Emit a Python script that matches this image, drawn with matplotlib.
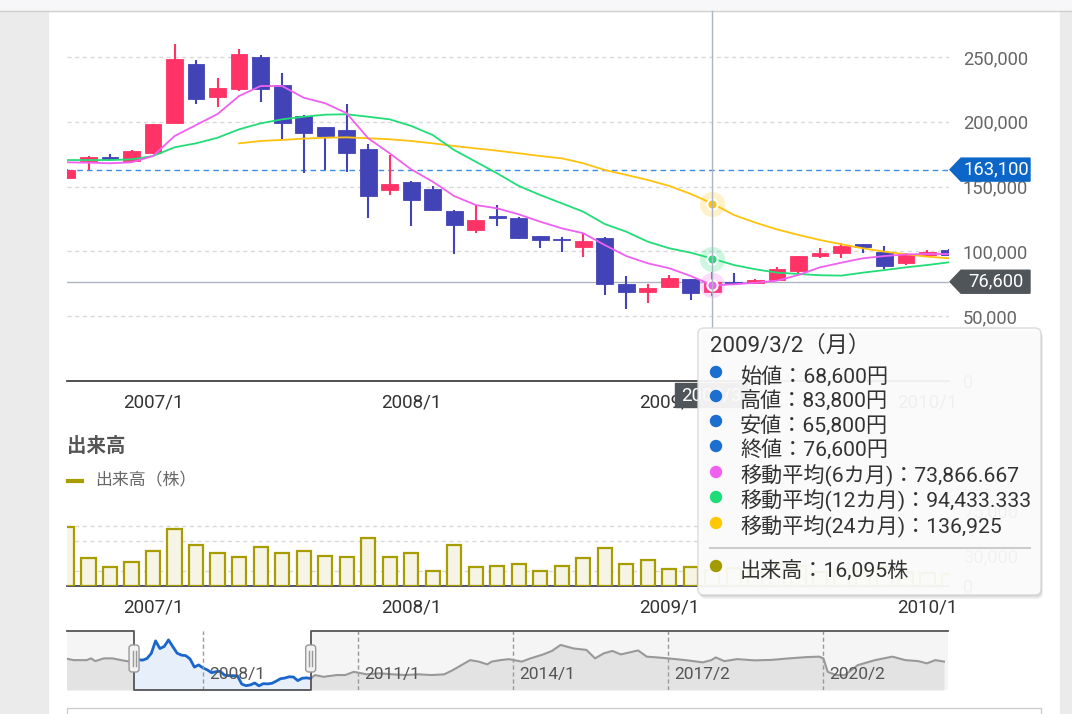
import numpy as np
import pandas as pd
import matplotlib
matplotlib.use('Agg')
import matplotlib.pyplot as plt
from matplotlib.patches import Rectangle, FancyBboxPatch, Polygon, Circle
from matplotlib.transforms import IdentityTransform, offset_copy
from matplotlib.lines import Line2D

plt.rcParams['font.family'] = ['Roboto', 'Noto Sans CJK JP']

# monthly candles 2006/9 - 2010/2
months = pd.period_range('2006-09', '2010-02', freq='M')

opens = [156900, 169700, 173000, 169500,
         176200, 199300, 244400, 219400, 225100, 250200, 228400, 204500, 195700, 193700, 179000, 147400,
         153800, 147900, 131400, 116400, 126500, 126000, 111600, 109000, 103600, 110200, 74800, 68900,
         72300, 78500, 68600, 76000, 75500, 78000, 85100, 96500, 98500, 105400, 99800, 91300,
         97000, 101000]
highs = [163500, 173500, 175200, 178000,
         198500, 260000, 247700, 233600, 256000, 251500, 237900, 205200, 196000, 213700, 182900, 174400,
         154000, 150700, 131900, 135800, 135800, 126500, 111800, 110900, 114000, 111000, 81000, 74800,
         81800, 79000, 83800, 83000, 78500, 88000, 96500, 102400, 106200, 106000, 104200, 98500,
         101100, 101500]
lows = [156000, 162800, 170500, 169000,
        175500, 199000, 213800, 211700, 223800, 215500, 186500, 160200, 162800, 161500, 125500, 143500,
        119600, 131500, 97800, 114400, 119600, 109600, 102900, 99800, 95900, 66400, 55300, 60000,
        72000, 62500, 65800, 74000, 75200, 77500, 83600, 94700, 94700, 98500, 86200, 89500,
        96800, 96800]
closes = [162800, 173000, 171000, 177500,
          198000, 248500, 217400, 225800, 252300, 225100, 198800, 191100, 189000, 175700, 143000, 151800,
          139700, 131900, 120400, 124600, 126000, 110600, 108800, 108500, 107800, 74800, 68400, 71500,
          79200, 67700, 76600, 75500, 78000, 86700, 96400, 99000, 104200, 103100, 88700, 98000,
          99800, 97500]
volumes = [59000, 27300, 18300, 24000,
           35000, 57000, 40700, 33000, 29000, 39000, 33000, 35000, 30000, 29000, 48000, 29000,
           33000, 14700, 40700, 18300, 19700, 21300, 15000, 19700, 27300, 38000, 21300, 25700,
           17000, 18300, 16095, 18000, 15000, 22000, 20000, 14000, 17000, 15000, 19000, 14000,
           13000, 12000]

ma6 = [168750, 168450, 168000, 168750,
       173600, 189000, 197500, 206000, 219900, 227600, 227600, 218600, 214300, 206600, 187300, 175700,
       163300, 153800, 142700, 135800, 133200, 128600, 122900, 117800, 114000, 104900, 96400, 90800,
       87000, 81000, 73866.667, 74600, 75800, 77400, 81800, 87700, 91300, 94700, 96400, 97700,
       98000, 98000]
ma12 = [170500, 170500, 170500, 171000,
        173600, 180300, 183400, 187700, 194200, 198800, 201900, 203900, 205500, 205800, 203900, 201900,
        196800, 189800, 178200, 169200, 160200, 150500, 143500, 137100, 130600, 121100, 115200, 107500,
        102400, 99000, 94433.333, 89500, 86200, 83600, 82600, 81600, 81300, 83600, 85600, 87700,
        89500, 91600]
ma24 = [np.nan] * 8 + [183400, 185200, 186000, 187000, 187700, 188000, 187300, 186500,
                       185200, 183400, 181300, 179500, 177700, 175700, 173600, 171800, 168000, 162800, 159000, 155100,
                       150500, 144300, 136925, 128100, 122200, 117000, 112700, 108800, 105500, 102400, 99800, 97800,
                       95900, 94700]

latest_price = 163100
hover = 30  # 2009/3

# navigator (whole history) outside the selected range
nav_left_dates = ['2005-05', '2005-07', '2005-10', '2005-11', '2005-12', '2006-02', '2006-04', '2006-06', '2006-08']
nav_left_vals = [178000, 171000, 171000, 178000, 167000, 178000, 178000, 171000, 165000]
nav_right_dates = ['2010-03', '2010-05', '2010-08', '2010-10', '2010-12', '2011-03', '2011-06', '2011-09', '2011-12',
                   '2012-03', '2012-06', '2012-09', '2012-11', '2013-03', '2013-05', '2013-07', '2013-08', '2013-10',
                   '2013-12', '2014-03', '2014-05', '2014-08', '2014-10', '2014-12', '2015-03', '2015-06', '2015-08',
                   '2015-10', '2015-12', '2016-02', '2016-04', '2016-06', '2016-08', '2016-11', '2017-01', '2017-05',
                   '2017-09', '2017-11', '2017-12', '2018-02', '2018-05', '2018-09', '2019-01', '2019-05', '2019-09',
                   '2019-12', '2020-01', '2020-02', '2020-04', '2020-06', '2020-09', '2021-01', '2021-05', '2021-08',
                   '2021-11', '2022-01', '2022-03', '2022-05']
nav_right_vals = [111000, 104000, 111000, 111000, 124000, 114000, 118000, 114000, 111000,
                  114000, 111000, 114000, 131000, 171000, 165000, 154000, 165000, 171000,
                  175000, 165000, 178000, 194000, 208000, 232000, 218000, 212000, 178000,
                  198000, 208000, 194000, 202000, 210000, 185000, 181000, 178000, 171000,
                  162000, 171000, 182000, 167000, 175000, 170000, 172000, 178000, 183000,
                  185000, 178000, 124000, 111000, 111000, 151000, 171000, 185000, 171000,
                  167000, 158000, 171000, 165000]
nav_ticks = [2008.0, 2011.0, 2014.0, 2017.0, 2020.0]
nav_labels = ['2008/1', '2011/1', '2014/1', '2017/2', '2020/2']

W, H = 1072, 714
fig = plt.figure(figsize=(W / 100, H / 100), dpi=100)
fig.patch.set_facecolor('white')
ID = IdentityTransform()


def P(x, y):
    return (x, H - y)


def fmt(v):
    return f"{v:,.0f}" if float(v).is_integer() else f"{v:,.3f}"


x = np.arange(len(months))
jan = [i for i, m in enumerate(months) if m.month == 1]
jan_labels = [f"{months[i].year}/1" for i in jan]
up_c, down_c = '#ff3366', '#4343b8'

# page frame
fig.add_artist(Rectangle(P(0, 10), W, 10, transform=ID, color='#f7f7f9', zorder=-2))
fig.add_artist(Line2D([0, W], [H - 10.5, H - 10.5], transform=ID, color='#cfcfcf', lw=1, zorder=-1))
fig.add_artist(Rectangle(P(0, H), 48, H - 11, transform=ID, color='#ebebeb', zorder=-2))
fig.add_artist(Rectangle(P(1060, H), 12, H - 11, transform=ID, color='#ebebeb', zorder=-2))
fig.add_artist(Rectangle(P(67, H + 2), 974, 8, transform=ID, facecolor='white', edgecolor='#cccccc', lw=1, zorder=-1))

# ---------------- price chart ----------------
ax = fig.add_axes([67 / W, 1 - 381 / H, 882 / W, 366 / H])
ax.set_facecolor('none')
for i in x:
    col = up_c if closes[i] >= opens[i] else down_c
    ax.vlines(i, lows[i], highs[i], color=col, lw=1.5, zorder=3)
    ax.bar(i, max(abs(closes[i] - opens[i]), 1000), bottom=min(opens[i], closes[i]), width=0.78,
           color=col, edgecolor=col, lw=0.6, zorder=4)
ax.plot(x, ma24, color='#ffc20e', lw=1.3, zorder=5)
ax.plot(x, ma12, color='#22dd77', lw=1.3, zorder=5)
ax.plot(x, ma6, color='#f060f0', lw=1.3, zorder=5)
ax.axhline(latest_price, color='#3a8ee6', lw=1, ls=(0, (4, 3)), zorder=2)
ax.axhline(closes[hover], color='#aab5c1', lw=1, zorder=2)
for ma, c in [(ma24, '#ffc20e'), (ma12, '#22dd77'), (ma6, '#f060f0')]:
    ax.scatter([hover], [ma[hover]], s=330, color=c, alpha=0.22, lw=0, zorder=6)
    ax.scatter([hover], [ma[hover]], s=55, color=c, edgecolor='white', lw=1.5, zorder=7)
ax.set_xlim(0, len(x) - 1)
ax.set_ylim(0, 282400)
ax.set_yticks(np.arange(0, 250001, 50000))
ax.set_yticklabels([f"{v:,}" for v in np.arange(0, 250001, 50000)])
ax.yaxis.tick_right()
ax.set_xticks(jan)
ax.set_xticklabels(jan_labels)
ax.tick_params(axis='y', length=0, pad=10, labelsize=13.2, labelcolor='#666666')
ax.tick_params(axis='x', length=0, pad=9, labelsize=13.5, labelcolor='#333333')
ax.grid(axis='y', color='#d9d9d9', lw=1, ls=(0, (3, 2.5)))
ax.set_axisbelow(True)
for s in ['top', 'left', 'right']:
    ax.spines[s].set_visible(False)
ax.spines['bottom'].set_color('#333333')
ax.spines['bottom'].set_linewidth(1.2)
ax.spines['bottom'].set_zorder(1)

to_px = ax.transData.transform
hx = to_px((hover, 0))[0]
fig.add_artist(Line2D([hx, hx], [H - 10.5, H - 383], transform=ID, color='#aab5c1', lw=1, zorder=1))

# right-side value flags
for val, col in [(latest_price, '#0b66c8'), (closes[hover], '#50555a')]:
    yy = to_px((0, val))[1]
    fig.add_artist(Polygon([(950, yy), (961, yy + 11.5), (1030, yy + 11.5), (1030, yy - 11.5), (961, yy - 11.5)],
                           transform=ID, color=col, zorder=5))
    fig.text(996, yy, f"{val:,}", transform=ID, color='white', fontsize=13.2, ha='center', va='center', zorder=6)

# crosshair date flag
fig.add_artist(Rectangle((hx - 37, H - 407), 72, 24, transform=ID, color='#50555a', zorder=5))
fig.text(hx - 1, H - 395, f"{months[hover].year}/{months[hover].month}", transform=ID, color='white',
         fontsize=13.5, ha='center', va='center', zorder=6)

# ---------------- volume chart ----------------
vx = fig.add_axes([67 / W, 1 - 585.7 / H, 882 / W, 80 / H])
vx.set_facecolor('none')
vx.bar(x, volumes, width=0.66, color='#f6f4e4', edgecolor='#a89d00', lw=1.6, zorder=3)
vx.set_xlim(0, len(x) - 1)
vx.set_ylim(0, 80000)
vx.set_yticks([0, 30000, 75000])
vx.set_yticklabels(['0', '30,000', '75,000'])
vx.set_yticks(np.arange(15000, 75001, 15000), minor=True)
vx.yaxis.tick_right()
vx.set_xticks(jan)
vx.set_xticklabels(jan_labels)
vx.tick_params(axis='y', which='both', length=0, pad=10, labelsize=13.2, labelcolor='#666666')
vx.tick_params(axis='x', length=0, pad=9, labelsize=13.5, labelcolor='#333333')
vx.grid(axis='y', which='minor', color='#d9d9d9', lw=1, ls=(0, (3, 2.5)))
vx.set_axisbelow(True)
for s in ['top', 'left', 'right']:
    vx.spines[s].set_visible(False)
vx.spines['bottom'].set_color('#333344')
vx.spines['bottom'].set_linewidth(1.2)

fig.text(67, H - 446, '出来高', transform=ID, fontsize=14, fontweight='bold', color='#555555', va='center')
fig.add_artist(Line2D([68, 82], [H - 481, H - 481], transform=ID, color='#a89d00', lw=3))
fig.text(95, H - 480, '出来高（株）', transform=ID, fontsize=12.2, color='#666666', va='center')

# ---------------- navigator ----------------
def dec_year(d):
    p = pd.Period(d, freq='M')
    return p.year + (p.month - 1) / 12


sel_x = [m.year + (m.month - 1) / 12 for m in months]
nav_x = [dec_year(d) for d in nav_left_dates] + sel_x + [dec_year(d) for d in nav_right_dates]
nav_y = nav_left_vals + closes + nav_right_vals

nx = fig.add_axes([67 / W, 1 - 690 / H, 881 / W, 59 / H])
nx.set_facecolor('#f5f5f5')
nx.set_xlim(2005.37, 2022.41)
nx.set_ylim(51000, 288000)
nx.fill_between(nav_x, nav_y, 51000, color='#e3e3e3', lw=0, zorder=1)
nx.plot(nav_x, nav_y, color='#999999', lw=1.5, zorder=2)
nx.axvspan(sel_x[0], sel_x[-1], color='white', lw=0, zorder=3)
nx.fill_between(sel_x, closes, 51000, color='#e6effa', lw=0, zorder=4)
nx.plot(sel_x, closes, color='#1a66cc', lw=2, zorder=5)
for t, lab in zip(nav_ticks, nav_labels):
    nx.axvline(t, color='#999999', lw=1, ls=(0, (3, 2)), zorder=6)
    nx.text(t, 0.27, lab, transform=offset_copy(nx.get_xaxis_transform(), fig=fig, x=6, units='dots'),
            fontsize=12.5, color='#555555', va='center', ha='left', zorder=7)
nx.set_xticks([])
nx.set_yticks([])
for s in nx.spines.values():
    s.set_visible(False)
bt = nx.get_xaxis_transform()
nx.plot([2005.37, sel_x[0], sel_x[0], sel_x[-1], sel_x[-1], 2022.41], [1, 1, 0, 0, 1, 1],
        transform=bt, color='#555555', lw=1.3, clip_on=False, zorder=8)
for sx in [sel_x[0], sel_x[-1]]:
    hxp = nx.transData.transform((sx, 100000))[0]
    fig.add_artist(FancyBboxPatch((hxp - 5, H - 672), 10, 27, boxstyle='round,pad=0,rounding_size=3',
                                  transform=ID, facecolor='#f2f2f2', edgecolor='#999999', lw=1, zorder=9))
    for dx in (-1.5, 1.5):
        fig.add_artist(Line2D([hxp + dx, hxp + dx], [H - 666, H - 651], transform=ID, color='#999999', lw=1, zorder=9))

# ---------------- tooltip ----------------
for k, a in [(4, 0.05), (2.5, 0.08), (1, 0.1)]:
    fig.add_artist(FancyBboxPatch((698 + k * 0.5, H - 595 - k), 343, 267, boxstyle='round,pad=0,rounding_size=6',
                                  transform=ID, facecolor='black', alpha=a, lw=0, zorder=9))
fig.add_artist(FancyBboxPatch((698, H - 595), 343, 267, boxstyle='round,pad=0,rounding_size=6',
                              transform=ID, facecolor='white', alpha=0.93, edgecolor='#d8d8d8', lw=1, zorder=10))
d = months[hover]
fig.text(710, H - 346, f"{d.year}/{d.month}/2（月）", transform=ID, fontsize=16, color='#333333',
         va='center', zorder=11)
rows = [('始値', f"{opens[hover]:,}円", '#1a6fd0', 376),
        ('高値', f"{highs[hover]:,}円", '#1a6fd0', 400),
        ('安値', f"{lows[hover]:,}円", '#1a6fd0', 425),
        ('終値', f"{closes[hover]:,}円", '#1a6fd0', 450),
        ('移動平均(6カ月)', fmt(ma6[hover]), '#f060f0', 476),
        ('移動平均(12カ月)', fmt(ma12[hover]), '#1edc78', 501),
        ('移動平均(24カ月)', fmt(ma24[hover]), '#ffc800', 527),
        ('出来高', f"{volumes[hover]:,}株", '#a39b00', 570)]
for name, val, col, yy in rows:
    fig.add_artist(Circle((716, H - yy + 4), 5.5, transform=ID, color=col, zorder=11))
    fig.text(740, H - yy, f"{name}：{val}", transform=ID, fontsize=15.2, color='#333333', va='center', zorder=11)
fig.add_artist(Line2D([710, 1030], [H - 548, H - 548], transform=ID, color='#cccccc', lw=1.5, zorder=11))

fig.savefig('out.png', dpi=100)
